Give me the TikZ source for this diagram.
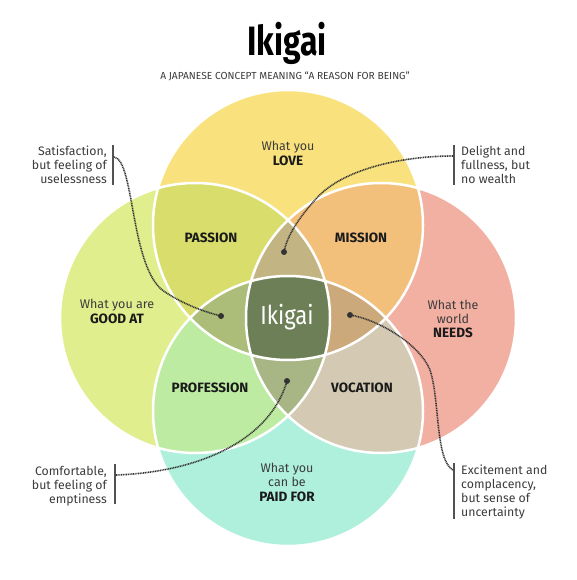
\documentclass[tikz,border=0pt]{standalone}
\usepackage{fontspec}
\setmainfont{Fira Sans}
\usepackage{graphicx}
\definecolor{cLove}{HTML}{F9E27D}
\definecolor{cGood}{HTML}{E0EE8E}
\definecolor{cNeeds}{HTML}{F2B0A2}
\definecolor{cPaid}{HTML}{AEF0DB}
\definecolor{cPassion}{HTML}{D8DD6C}
\definecolor{cMission}{HTML}{F3C07C}
\definecolor{cProfession}{HTML}{BDEBA2}
\definecolor{cVocation}{HTML}{D4CAB4}
\definecolor{cTopLens}{HTML}{C3B583}
\definecolor{cLeftLens}{HTML}{ABBD78}
\definecolor{cRightLens}{HTML}{CBA97B}
\definecolor{cBotLens}{HTML}{A8B585}
\definecolor{cCenter}{HTML}{6C7F56}
\definecolor{cText}{HTML}{3C3C3C}
\definecolor{cBold}{HTML}{1A1A1A}
\definecolor{cLine}{HTML}{333333}
\tikzset{
  lbl/.style={font=\fontsize{12.5}{14}\selectfont, text=cText, align=center, inner sep=0pt},
  rlbl/.style={font=\fontsize{12.3}{14}\selectfont, text=cText, align=right, inner sep=0pt, anchor=east},
  llbl/.style={font=\fontsize{12.3}{14}\selectfont, text=cText, align=left, inner sep=0pt, anchor=west},
  bold/.style={font=\bfseries\fontsize{13.5}{14}\selectfont, text=cBold, inner sep=0pt},
  dotn/.style={circle, fill=cLine, inner sep=0pt, minimum size=6pt},
  conn/.style={cLine, line width=1.6pt, dash pattern=on 1pt off 0.7pt},
  bar/.style={cLine!85, line width=2pt},
  rim/.style={white, line width=2.5pt}
}
\begin{document}
\begin{tikzpicture}[x=1pt,y=-1pt]
\useasboundingbox[fill=white] (0,0) rectangle (577,580);
\coordinate (T) at (288,225);
\coordinate (B) at (288,411);
\coordinate (L) at (195,318);
\coordinate (R) at (381,318);
% single circles
\fill[cLove] (T) circle[radius=135pt];
\fill[cGood] (L) circle[radius=135pt];
\fill[cNeeds] (R) circle[radius=135pt];
\fill[cPaid] (B) circle[radius=135pt];
% pairs
\begin{scope}\clip (T) circle[radius=135pt]; \fill[cPassion] (L) circle[radius=135pt];\end{scope}
\begin{scope}\clip (T) circle[radius=135pt]; \fill[cMission] (R) circle[radius=135pt];\end{scope}
\begin{scope}\clip (B) circle[radius=135pt]; \fill[cProfession] (L) circle[radius=135pt];\end{scope}
\begin{scope}\clip (B) circle[radius=135pt]; \fill[cVocation] (R) circle[radius=135pt];\end{scope}
% triples
\begin{scope}\clip (T) circle[radius=135pt]; \clip (L) circle[radius=135pt]; \fill[cTopLens] (R) circle[radius=135pt];\end{scope}
\begin{scope}\clip (T) circle[radius=135pt]; \clip (L) circle[radius=135pt]; \fill[cLeftLens] (B) circle[radius=135pt];\end{scope}
\begin{scope}\clip (T) circle[radius=135pt]; \clip (R) circle[radius=135pt]; \fill[cRightLens] (B) circle[radius=135pt];\end{scope}
\begin{scope}\clip (B) circle[radius=135pt]; \clip (L) circle[radius=135pt]; \fill[cBotLens] (R) circle[radius=135pt];\end{scope}
% center
\begin{scope}\clip (T) circle[radius=135pt]; \clip (L) circle[radius=135pt]; \clip (R) circle[radius=135pt]; \fill[cCenter] (B) circle[radius=135pt];\end{scope}
% rims
\draw[rim] (T) circle[radius=135pt];
\draw[rim] (L) circle[radius=135pt];
\draw[rim] (R) circle[radius=135pt];
\draw[rim] (B) circle[radius=135pt];

% title
\node[inner sep=0pt, text=black] (title) at (287,43) {\scalebox{0.78}[1]{\fontsize{41}{41}\selectfont\bfseries Ikigai}};
\node[inner sep=0pt, text=cText] (subtitle) at (285,76) {\fontsize{10.2}{10}\selectfont A JAPANESE CONCEPT MEANING “A REASON FOR BEING”};

% region labels
\node[lbl] (love1) at (288,147) {What you};
\node[bold] (love2) at (288,161) {LOVE};
\node[lbl] (good1) at (117,305) {What you are};
\node[bold] (good2) at (117,319) {GOOD AT};
\node[lbl, align=center] (need1) at (453,312) {What the\\world};
\node[bold] (need2) at (453,333) {NEEDS};
\node[lbl, align=center] (paid1) at (287,475) {What you\\can be};
\node[bold] (paid2) at (287,497) {PAID FOR};
\node[bold] (passion) at (211,238) {PASSION};
\node[bold] (mission) at (361,238) {MISSION};
\node[bold] (profession) at (210,388) {PROFESSION};
\node[bold] (vocation) at (362,388) {VOCATION};
\node[inner sep=0pt, text=white, font=\fontsize{26}{26}\selectfont] (ikigai) at (287,317) {\scalebox{0.85}[1]{Ikigai}};

% callouts
\node[rlbl] (t1) at (107,165) {Satisfaction,\\but feeling of\\uselessness};
\node[llbl] (t2) at (461,165) {Delight and\\fullness, but\\no wealth};
\node[rlbl] (t3) at (107,486) {Comfortable,\\but feeling of\\emptiness};
\node[llbl] (t4) at (461,492) {Excitement and\\complacency,\\but sense of\\uncertainty};

\coordinate (b1a) at (113,145); \coordinate (b1b) at (113,185);
\coordinate (b2a) at (454,145); \coordinate (b2b) at (454,185);
\coordinate (b3a) at (115,464); \coordinate (b3b) at (115,504);
\coordinate (b4a) at (454,463); \coordinate (b4b) at (454,519);
\draw[bar] (b1a) -- (b1b);
\draw[bar] (b2a) -- (b2b);
\draw[bar] (b3a) -- (b3b);
\draw[bar] (b4a) -- (b4b);

\node[dotn] (d1) at (221,316) {};
\node[dotn] (d2) at (284,252) {};
\node[dotn] (d3) at (287,381) {};
\node[dotn] (d4) at (350,315) {};

\coordinate (s1) at (114,157);
\coordinate (s2) at (453,156);
\coordinate (s3) at (116,475);
\coordinate (s4) at (453,470);

\draw[conn] (s1) .. controls (135,160) and (130,270) .. (165,292) .. controls (185,305) and (205,312) .. (d1.center);
\draw[conn] (s2) .. controls (400,156) and (340,170) .. (315,200) .. controls (295,222) and (286,240) .. (d2.center);
\draw[conn] (s3) .. controls (200,472) and (270,440) .. (d3.center);
\draw[conn] (s4) .. controls (435,460) and (440,400) .. (430,370) .. controls (420,345) and (380,320) .. (d4.center);
\end{tikzpicture}
\end{document}
